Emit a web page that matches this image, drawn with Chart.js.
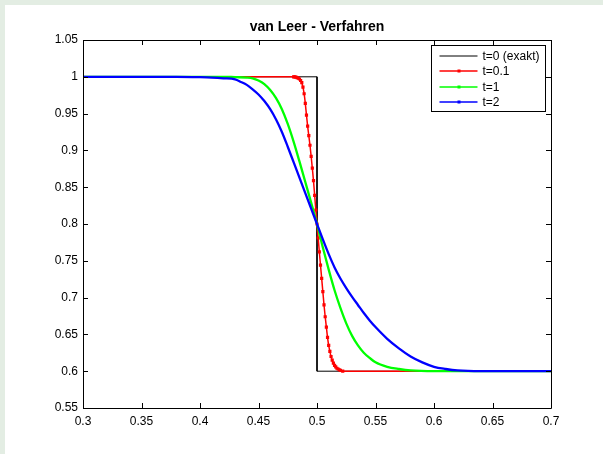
<!DOCTYPE html>
<html>
<head>
<meta charset="utf-8">
<script src="https://cdn.jsdelivr.net/npm/chart.js@4/dist/chart.umd.min.js"></script>
<style>
  html, body { margin: 0; padding: 0; background: #e3ede3; }
  #wrap { position: absolute; left: 5px; top: 5px; width: 598px; height: 449px; background: #fff; }
</style>
</head>
<body>
<div id="wrap"><canvas id="chart" width="598" height="449"></canvas></div>
<script>
const titleText = 'van Leer - Verfahren';
const xTicks = [0.3, 0.35, 0.4, 0.45, 0.5, 0.55, 0.6, 0.65, 0.7];
const yTicks = [0.55, 0.6, 0.65, 0.7, 0.75, 0.8, 0.85, 0.9, 0.95, 1, 1.05];

const labels = ['t=0 (exakt)', 't=0.1', 't=1', 't=2'];
const colors = ['#000000', '#ff0000', '#00ff00', '#0000ff'];

// exact solution (step)
const exactX = [0.3, 0.5, 0.5, 0.7];
const exactY = [1, 1, 0.6, 0.6];

// t=0.1
const redX = [0.30, 0.47, 0.478, 0.480, 0.481, 0.482, 0.483, 0.484, 0.485, 0.486, 0.487, 0.488, 0.489,
  0.490, 0.491, 0.492, 0.493, 0.494, 0.495, 0.496, 0.497, 0.498, 0.499, 0.500, 0.501, 0.502, 0.503,
  0.504, 0.505, 0.506, 0.507, 0.508, 0.509, 0.510, 0.511, 0.512, 0.513, 0.514, 0.515, 0.516, 0.517,
  0.518, 0.519, 0.520, 0.522, 0.53, 0.70];
const redY = [1.000, 1.000, 1.000, 1.000, 1.000, 0.9995, 0.999, 0.998, 0.997, 0.995, 0.992, 0.986, 0.977,
  0.964, 0.948, 0.933, 0.920, 0.907, 0.892, 0.876, 0.859, 0.839, 0.819, 0.800, 0.781, 0.762, 0.744,
  0.726, 0.708, 0.690, 0.674, 0.660, 0.646, 0.635, 0.627, 0.620, 0.615, 0.611, 0.608, 0.606, 0.604,
  0.603, 0.602, 0.601, 0.600, 0.600, 0.600];

// t=1
const greenX = [0.30, 0.42, 0.43, 0.44, 0.445, 0.45, 0.455, 0.46, 0.465, 0.47, 0.475, 0.48, 0.485, 0.49,
  0.495, 0.50, 0.505, 0.51, 0.515, 0.52, 0.525, 0.53, 0.535, 0.54, 0.545, 0.55, 0.56, 0.57, 0.58, 0.60, 0.70];
const greenY = [1.000, 1.000, 0.9995, 0.999, 0.998, 0.995, 0.990, 0.982, 0.971, 0.956, 0.936, 0.912, 0.885, 0.857,
  0.829, 0.800, 0.768, 0.738, 0.710, 0.686, 0.665, 0.648, 0.635, 0.625, 0.618, 0.612, 0.606, 0.603, 0.601, 0.600, 0.600];

// t=2
const blueX = [0.30, 0.38, 0.40, 0.41, 0.42, 0.43, 0.435, 0.44, 0.445, 0.45, 0.455, 0.46, 0.465, 0.47, 0.475, 0.48,
  0.485, 0.49, 0.495, 0.50, 0.505, 0.51, 0.515, 0.52, 0.525, 0.53, 0.535, 0.54, 0.545, 0.55, 0.56, 0.57,
  0.58, 0.59, 0.60, 0.61, 0.62, 0.64, 0.70];
const blueY = [1.000, 1.000, 0.9995, 0.999, 0.998, 0.9965, 0.993, 0.989, 0.983, 0.976, 0.967, 0.956, 0.942, 0.925, 0.905, 0.884,
  0.863, 0.842, 0.821, 0.800, 0.779, 0.759, 0.741, 0.726, 0.713, 0.701, 0.690, 0.679, 0.669, 0.660, 0.644, 0.631,
  0.620, 0.612, 0.606, 0.603, 0.601, 0.600, 0.600];

const FONT = "'Liberation Sans', Arial, Helvetica, sans-serif";
const pts = (xs, ys) => xs.map((x, i) => ({ x: x, y: ys[i] }));

// box, inward ticks on all four sides, and a matlab-like legend
const matlabAxes = {
  id: 'matlabAxes',
  afterDatasetsDraw(chart) {
    const { ctx, chartArea: a, scales: { x, y } } = chart;
    const tl = 5;
    ctx.save();
    ctx.strokeStyle = '#000';
    ctx.lineWidth = 1;
    ctx.beginPath();
    ctx.rect(a.left + 0.5, a.top + 0.5, a.right - a.left, a.bottom - a.top);
    xTicks.forEach(v => {
      const px = Math.round(x.getPixelForValue(v)) + 0.5;
      ctx.moveTo(px, a.bottom); ctx.lineTo(px, a.bottom - tl);
      ctx.moveTo(px, a.top); ctx.lineTo(px, a.top + tl);
    });
    yTicks.forEach(v => {
      const py = Math.round(y.getPixelForValue(v)) + 0.5;
      ctx.moveTo(a.left, py); ctx.lineTo(a.left + tl, py);
      ctx.moveTo(a.right, py); ctx.lineTo(a.right - tl, py);
    });
    ctx.stroke();

    // legend
    const w = 114, h = 66;
    const lx = Math.round(a.right - 6 - w) + 0.5, ly = Math.round(a.top + 5) + 0.5;
    ctx.fillStyle = '#fff';
    ctx.fillRect(lx, ly, w, h);
    ctx.strokeRect(lx, ly, w, h);
    ctx.font = '12px ' + FONT;
    ctx.textBaseline = 'middle';
    ctx.textAlign = 'left';
    chart.data.datasets.forEach((ds, i) => {
      const ry = Math.round(ly + 10 + i * 15.5);
      ctx.strokeStyle = ds.borderColor;
      ctx.lineWidth = i === 0 ? 1 : 1.5;
      ctx.beginPath();
      ctx.moveTo(lx + 8, ry); ctx.lineTo(lx + 46, ry);
      ctx.stroke();
      if (i > 0) {
        ctx.fillStyle = ds.borderColor;
        ctx.fillRect(lx + 26, ry - 1.5, 3, 3);
      }
      ctx.fillStyle = '#000';
      ctx.fillText(ds.label, lx + 51, ry + 1);
    });
    ctx.restore();
  }
};

new Chart(document.getElementById('chart'), {
  type: 'line',
  data: {
    datasets: [
      { label: labels[0], data: pts(exactX, exactY), borderColor: colors[0], borderWidth: 1, pointRadius: 0, order: 4 },
      { label: labels[1], data: pts(redX, redY), borderColor: colors[1], backgroundColor: colors[1], borderWidth: 1.5,
        pointRadius: c => (c.raw && c.raw.x >= 0.479 && c.raw.x <= 0.523 ? 1.2 : 0), pointStyle: 'rect',
        cubicInterpolationMode: 'monotone', order: 3 },
      { label: labels[2], data: pts(greenX, greenY), borderColor: colors[2], borderWidth: 2.3, pointRadius: 0,
        cubicInterpolationMode: 'monotone', order: 2 },
      { label: labels[3], data: pts(blueX, blueY), borderColor: colors[3], borderWidth: 2.3, pointRadius: 0,
        cubicInterpolationMode: 'monotone', order: 1 }
    ]
  },
  options: {
    responsive: false,
    animation: false,
    layout: { padding: { left: 0, right: 52, top: 0, bottom: 0 } },
    plugins: {
      legend: { display: false },
      tooltip: { enabled: false },
      title: {
        display: true,
        text: titleText,
        fullSize: false,
        color: '#000',
        font: { family: FONT, size: 14, weight: 'bold' },
        padding: { top: 13.6, bottom: 4.6 }
      }
    },
    scales: {
      x: {
        type: 'linear',
        min: 0.3,
        max: 0.7,
        grid: { display: false, drawTicks: false },
        border: { display: false },
        afterBuildTicks: s => { s.ticks = xTicks.map(v => ({ value: v })); },
        afterFit: s => { s.height = 46; },
        ticks: { color: '#000', font: { family: FONT, size: 12 }, padding: 6, maxRotation: 0, autoSkip: false,
          callback: v => String(v) }
      },
      y: {
        type: 'linear',
        min: 0.55,
        max: 1.05,
        grid: { display: false, drawTicks: false },
        border: { display: false },
        afterBuildTicks: s => { s.ticks = yTicks.map(v => ({ value: v })); },
        afterFit: s => { s.width = 78; },
        ticks: { color: '#000', font: { family: FONT, size: 12 }, padding: 5, autoSkip: false,
          callback: v => String(v) }
      }
    }
  },
  plugins: [matlabAxes]
});
</script>
</body>
</html>
